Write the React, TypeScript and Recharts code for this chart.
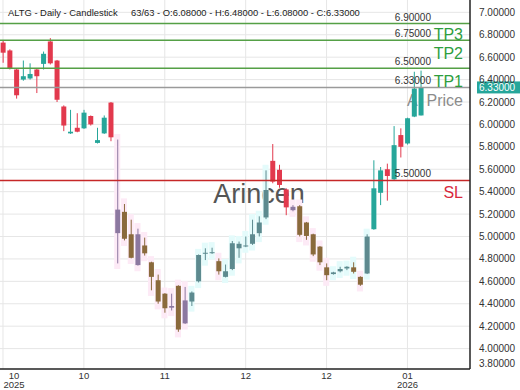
import { Bar, CartesianGrid, ComposedChart, ReferenceLine, XAxis, YAxis } from "recharts";

// daily candles, oldest first (63 sessions)
const opens = [
  6.73, 6.66, 6.49, 6.40, 6.41, 6.49, 6.54, 6.74, 6.57, 6.16, 5.92, 5.97, 5.965, 6.075, 5.835, 5.92, 6.195,
  5.03, 5.22, 5.02, 4.745, 4.92, 4.77, 4.61, 4.49, 4.365, 4.56, 4.225, 4.42, 4.60, 4.85, 4.855, 4.78, 4.64,
  4.71, 4.895, 4.915, 4.935, 5.03, 5.17, 5.675, 5.595, 5.42, 5.235, 5.27, 5.125, 5.02, 4.91, 4.725, 4.665,
  4.69, 4.715, 4.725, 4.64, 4.67, 5.065, 5.39, 5.60, 5.51, 5.905, 5.83, 6.07, 6.08,
];
const highs = [
  6.75, 6.67, 6.50, 6.57, 6.545, 6.50, 6.65, 6.77, 6.575, 6.17, 6.13, 6.10, 6.13, 6.08, 5.97, 6.08, 6.20,
  5.865, 5.29, 5.15, 5.07, 4.99, 4.775, 4.66, 4.495, 4.49, 4.565, 4.55, 4.51, 4.84, 4.895, 4.90, 4.805, 4.75,
  4.96, 4.955, 5.00, 5.15, 5.18, 5.59, 5.825, 5.64, 5.43, 5.28, 5.28, 5.13, 5.025, 4.915, 4.76, 4.685,
  4.73, 4.735, 4.77, 4.645, 5.02, 5.68, 5.62, 5.65, 5.985, 5.965, 6.06, 6.47, 6.48,
];
const lows = [
  6.55, 6.49, 6.23, 6.39, 6.40, 6.28, 6.49, 6.535, 6.20, 5.94, 5.915, 5.93, 5.96, 5.99, 5.83, 5.915, 5.85,
  4.76, 4.965, 4.805, 4.74, 4.83, 4.52, 4.40, 4.32, 4.34, 4.15, 4.22, 4.38, 4.59, 4.79, 4.845, 4.66, 4.635,
  4.70, 4.81, 4.905, 4.925, 5.00, 5.155, 5.475, 5.435, 5.19, 5.225, 5.00, 4.97, 4.825, 4.745, 4.61, 4.66,
  4.68, 4.70, 4.67, 4.56, 4.665, 5.06, 5.28, 5.32, 5.505, 5.705, 5.82, 6.065, 6.08,
];
const closes = [
  6.64, 6.50, 6.26, 6.43, 6.45, 6.43, 6.63, 6.545, 6.22, 5.99, 5.935, 5.935, 6.105, 6.00, 5.86, 6.06, 5.885,
  5.24, 4.98, 4.81, 5.02, 4.85, 4.64, 4.42, 4.36, 4.38, 4.17, 4.43, 4.50, 4.835, 4.855, 4.86, 4.69, 4.69,
  4.94, 4.935, 4.92, 5.02, 5.125, 5.415, 5.49, 5.46, 5.26, 5.265, 5.015, 5.005, 4.84, 4.77, 4.655, 4.68,
  4.71, 4.73, 4.685, 4.57, 5.00, 5.43, 5.59, 5.54, 5.815, 5.80, 6.055, 6.32, 6.33,
];
// highlight state per candle: "p" pink zone, "c" cyan zone, "" none
const zones = [
  "", "", "", "", "", "", "", "", "", "", "", "", "", "", "", "", "",
  "p", "p", "p", "p", "p", "p", "p", "p", "p", "p", "p", "c", "c", "c", "c", "p", "c",
  "c", "c", "c", "c", "c", "c", "", "", "", "p", "p", "p", "p", "p", "p", "c",
  "c", "c", "c", "p", "c", "", "", "", "", "", "", "", "",
];

const dateTicks = [0, 12, 24, 36, 48, 60];
const dateLabels = [["10", "2025"], ["10"], ["11"], ["12"], ["12"], ["01", "2026"]];
const priceTicks = [3.8, 4.0, 4.2, 4.4, 4.6, 4.8, 5.0, 5.2, 5.4, 5.6, 5.8, 6.0, 6.2, 6.4, 6.6, 6.8, 7.0];
const gridPrices = priceTicks.slice(1);

const tp3 = 6.75;
const tp2 = 6.5;
const tp1 = 6.33;
const top = 6.9;
const stopLoss = 5.5;
const lastPrice = 6.33;

const candles = opens.map((open, i) => ({
  i,
  open,
  high: highs[i],
  low: lows[i],
  close: closes[i],
  zone: zones[i],
  range: [lows[i], highs[i]],
  band: zones[i] ? [lows[i] - 0.05, highs[i] + 0.05] : null,
}));

const RED = "#e2394d";
const TEAL = "#26a69a";
const BROWN = "#8a6a3c";
const PURPLE = "#8c78a0";
const STEEL = "#5d8a8f";
const FONT = "'Liberation Sans', Arial, sans-serif";

function candleColor(d: any) {
  const up = d.close >= d.open;
  if (d.zone === "p") return up ? PURPLE : BROWN;
  if (d.zone === "c") return up ? STEEL : BROWN;
  return up ? TEAL : RED;
}

function Candle(props: any) {
  const { x, y, width, height, payload } = props;
  const y0 = Math.min(y, y + height);
  const h = Math.abs(height);
  const k = h / (payload.high - payload.low);
  const bodyTop = y0 + (payload.high - Math.max(payload.open, payload.close)) * k;
  const bodyH = Math.max(1, Math.abs(payload.close - payload.open) * k);
  const cx = x + width / 2;
  const color = candleColor(payload);
  return (
    <g>
      <line x1={cx} x2={cx} y1={y0} y2={y0 + h} stroke={color} strokeWidth={1} />
      <rect x={x} y={bodyTop} width={width} height={bodyH} fill={color} />
    </g>
  );
}

function Band(props: any) {
  const { x, y, width, height, payload } = props;
  if (!payload.band) return null;
  return (
    <rect
      x={x}
      y={Math.min(y, y + height)}
      width={width}
      height={Math.abs(height)}
      fill={payload.zone === "p" ? "#fdeaf6" : "#e4fbfb"}
    />
  );
}

function DateTick({ x, y, payload }: any) {
  const idx = dateTicks.indexOf(payload.value);
  const lines = dateLabels[idx] || [];
  const cx = Math.max(x, 14);
  return (
    <text x={cx} y={y} textAnchor="middle" fontSize={9.5} fill="#333" fontFamily={FONT}>
      {lines.map((t, k) => (
        <tspan key={k} x={cx} dy={9.5}>
          {t}
        </tspan>
      ))}
    </text>
  );
}

function PriceTick({ x, y, payload }: any) {
  return (
    <text x={x + 9} y={Math.min(y, 363)} dy={3.5} fontSize={10} fill="#333" fontFamily={FONT}>
      {Number(payload.value).toFixed(5)}
    </text>
  );
}

function levelLabel(value: number, tag?: string, tagColor?: string, tagDy = 0) {
  return (props: any) => {
    const { x, y, width } = props.viewBox;
    const right = x + width;
    return (
      <g fontFamily={FONT}>
        <text x={right - 39} y={y - 3} textAnchor="end" fontSize={10} fill="#333">
          {value.toFixed(5)}
        </text>
        {tag ? (
          <text x={right - 7} y={y + tagDy} textAnchor="end" fontSize={16} fill={tagColor}>
            {tag}
          </text>
        ) : null}
      </g>
    );
  };
}

function lastPriceLabel(props: any) {
  const { x, y, width } = props.viewBox;
  const right = x + width;
  return (
    <g fontFamily={FONT}>
      <text x={right - 39} y={y - 3} textAnchor="end" fontSize={10} fill="#333">
        {lastPrice.toFixed(5)}
      </text>
      <text x={right - 7} y={y} textAnchor="end" fontSize={16} fill="#2e9e3e">
        TP1
      </text>
      <rect x={right + 7} y={y - 6} width={50} height={12} fill={TEAL} />
      <text x={right + 9} y={y + 3.5} fontSize={10} fill="#fff">
        {lastPrice.toFixed(5)}
      </text>
    </g>
  );
}

export default function App() {
  return (
    <div style={{ position: "absolute", left: 0, top: 0, background: "#fff" }}>
      <ComposedChart
        width={520}
        height={390}
        data={candles}
        margin={{ top: 0, right: 0, bottom: 0, left: 0 }}
        style={{ fontFamily: FONT }}
      >
        <CartesianGrid stroke="#e6e6e6" horizontalValues={gridPrices} verticalValues={dateTicks} />
        <XAxis
          dataKey="i"
          type="number"
          domain={[-0.445, 69.28]}
          ticks={dateTicks}
          interval={0}
          allowDataOverflow
          tick={<DateTick />}
          tickLine={false}
          tickSize={0}
          tickMargin={0}
          height={21}
          axisLine={{ stroke: "#222", strokeWidth: 1.5 }}
        />
        <XAxis xAxisId="bg" dataKey="i" type="number" domain={[-0.445, 69.28]} allowDataOverflow hide />
        <YAxis
          orientation="right"
          type="number"
          domain={[3.818, 7.11]}
          ticks={priceTicks}
          allowDataOverflow
          interval={0}
          width={50}
          tick={<PriceTick />}
          tickLine={false}
          tickSize={0}
          tickMargin={0}
          axisLine={{ stroke: "#222", strokeWidth: 1.5 }}
        />
        <text x={259} y={203} textAnchor="middle" fontSize={27} fill="#555" fontFamily={FONT}>
          Arincen
        </text>
        <text x={463} y={106} textAnchor="end" fontSize={16} fill="#8c8c8c" fontFamily={FONT}>
          AI Price
        </text>
        <Bar xAxisId="bg" dataKey="band" barSize={8} shape={<Band />} isAnimationActive={false} />
        <Bar dataKey="range" barSize={5} shape={<Candle />} isAnimationActive={false} />
        <ReferenceLine y={top} stroke="#55a046" strokeWidth={1.5} label={levelLabel(top)} />
        <ReferenceLine y={tp3} stroke="#55a046" strokeWidth={1.5} label={levelLabel(tp3, "TP3", "#2e9e3e", 0)} />
        <ReferenceLine y={tp2} stroke="#55a046" strokeWidth={1.5} label={levelLabel(tp2, "TP2", "#2e9e3e", -9.5)} />
        <ReferenceLine y={tp1} stroke="#9a9a9a" strokeWidth={1.5} label={lastPriceLabel} />
        <ReferenceLine y={stopLoss} stroke="#c62828" strokeWidth={1.5} label={levelLabel(stopLoss, "SL", "#d8283c", 17.5)} />
        <text x={8} y={16} fontSize={9.4} fill="#222" fontFamily={FONT}>
          ALTG - Daily - Candlestick
        </text>
        <text x={131} y={16} fontSize={9.4} fill="#222" fontFamily={FONT}>
          63/63 - O:6.08000 - H:6.48000 - L:6.08000 - C:6.33000
        </text>
      </ComposedChart>
    </div>
  );
}
